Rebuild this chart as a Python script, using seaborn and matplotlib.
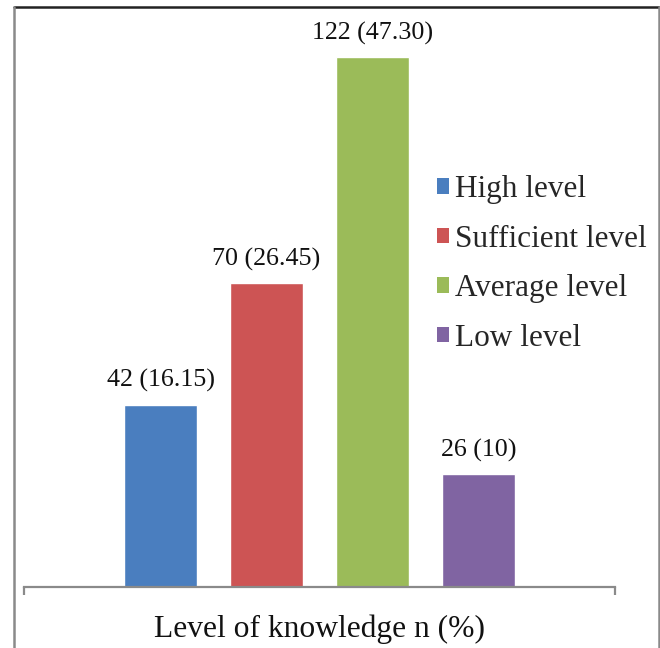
import matplotlib
matplotlib.use("Agg")
import matplotlib.pyplot as plt
from matplotlib.lines import Line2D
from matplotlib.patches import Patch
import pandas as pd
import seaborn as sns

# Knowledge level categories, counts (n) and percentages
levels = ["High level", "Sufficient level", "Average level", "Low level"]
counts = [42, 70, 122, 26]
percents = ["16.15", "26.45", "47.30", "10"]
colors = ["#4A7EBF", "#CD5454", "#9BBB59", "#8064A2"]
xlabel = "Level of knowledge n (%)"

sns.set_theme(style="white")
plt.rcParams["font.family"] = ["Liberation Serif", "DejaVu Serif"]

df = pd.DataFrame({"level": levels, "n": counts})

fig = plt.figure(figsize=(6.6, 6.48), dpi=100)
W, H = 660, 648
ax = fig.add_axes([24 / W, (H - 587) / H, 591 / W, 580 / H])

sns.barplot(data=df, x="level", y="n", hue="level", palette=colors,
            width=0.69, legend=False, saturation=1, ax=ax)

ax.set_xlim(-1.288, 4.287)
ax.set_ylim(0, 133.6)

# value labels above each bar
for i, (n, p) in enumerate(zip(counts, percents)):
    ax.annotate(f"{n} ({p})", xy=(i, n), xytext=(0, 9),
                textcoords="offset points", ha="center", va="bottom",
                fontsize=18.7, color="#111111")

# only the bottom axis line, with short end ticks
for s in ["top", "left", "right"]:
    ax.spines[s].set_visible(False)
ax.spines["bottom"].set_color("#8a8a8a")
ax.spines["bottom"].set_linewidth(1.6)
ax.set_yticks([])
ax.set_xticks([-1.288, 4.287])
ax.set_xticklabels([])
ax.tick_params(axis="x", direction="out", length=6, width=1.6,
               color="#8a8a8a", bottom=True)
ax.set_xlabel(xlabel, fontsize=22.7, color="#111111", labelpad=10)
ax.set_ylabel("")

handles = [Patch(facecolor=c, edgecolor="none") for c in colors]
fig.legend(handles, levels, loc="center left",
           bbox_to_anchor=(437 / W, 1 - 264 / H), frameon=False,
           fontsize=22.5, handlelength=0.38, handleheight=0.38,
           handletextpad=0.2, labelspacing=0.66, borderpad=0,
           borderaxespad=0)

# outer frame lines
fig.add_artist(Line2D([14 / W, 659 / W], [1 - 7 / H, 1 - 7 / H],
                      transform=fig.transFigure, color="#222222", lw=1.8))
fig.add_artist(Line2D([14 / W, 14 / W], [0, 1 - 7 / H],
                      transform=fig.transFigure, color="#8a8a8a", lw=1.8))
fig.add_artist(Line2D([659 / W, 659 / W], [0, 1 - 7 / H],
                      transform=fig.transFigure, color="#8a8a8a", lw=1.8))

fig.savefig("out.png", dpi=100)
